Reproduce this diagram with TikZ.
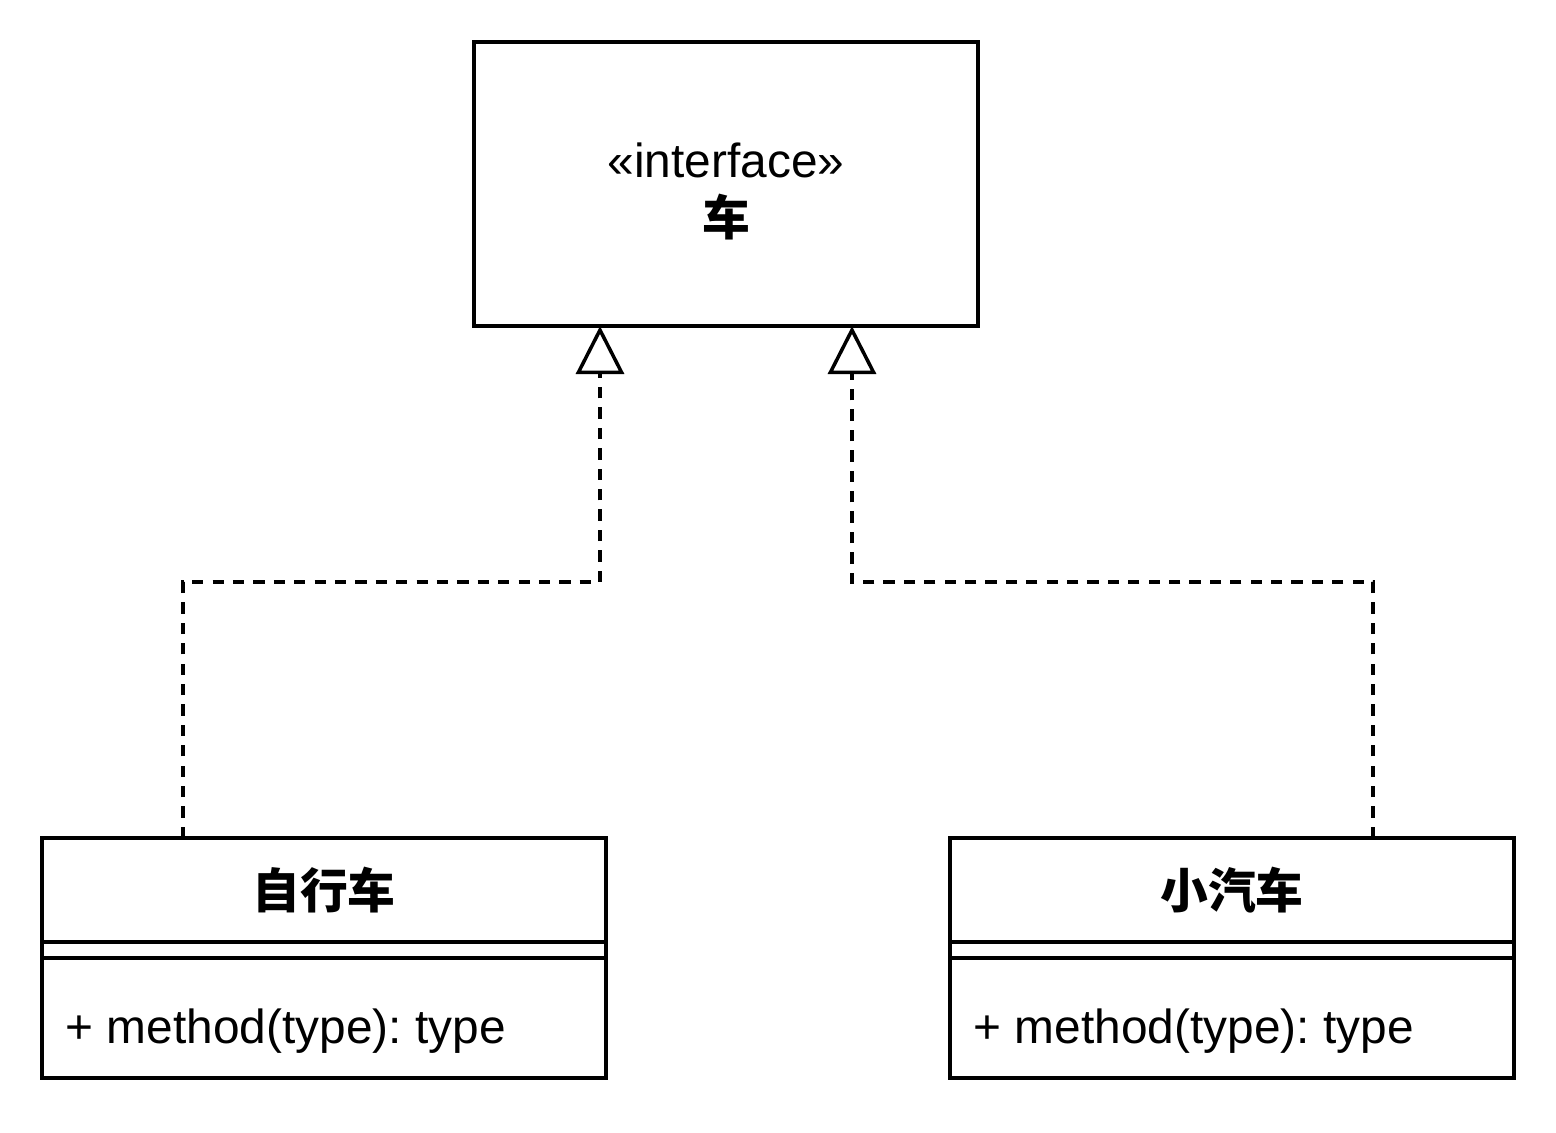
\documentclass[tikz,border=0pt]{standalone}
\usepackage{fontspec}
\setmainfont{Liberation Sans}
\newfontfamily\cjk{Noto Sans CJK SC}
\usetikzlibrary{arrows.meta}
\frenchspacing
\begin{document}
\begin{tikzpicture}[x=0.01cm,y=-0.01cm,
  box/.style={draw=black, line width=1pt, rectangle, inner sep=0pt, outer sep=0pt},
  realize/.style={draw=black, line width=1pt, dash pattern=on 3.2pt off 2.6pt,
    -{Triangle[open, length=0.48cm, width=0.48cm, line width=1pt]}},
  lbl/.style={font=\fontsize{13.6pt}{16pt}\selectfont, inner sep=0pt},
  cjklbl/.style={font=\cjk\bfseries\fontsize{13.6pt}{16pt}\selectfont, inner sep=0pt}
]
\useasboundingbox (0,0) rectangle (1556,1132);
% interface
\node[box, minimum width=5.04cm, minimum height=2.84cm] (iface) at (726,184) {};
\node[lbl] (ifst) at (726,160) {«interface»};
\node[cjklbl] (ifname) at (726,217) {车};
% bicycle
\node[box, minimum width=5.64cm, minimum height=1.04cm] (bikeHead) at (324,890) {};
\node[box, minimum width=5.64cm, minimum height=1.36cm] (bikeBody) at (324,1010) {};
\node[cjklbl] (bikeName) at (324,890) {自行车};
\draw[line width=1pt] (42,958) coordinate (bs1) -- (606,958) coordinate (bs2);
\node[lbl, anchor=west] (bikeMeth) at (65,1031) {+ method(type): type};
% car
\node[box, minimum width=5.64cm, minimum height=1.04cm] (carHead) at (1232,890) {};
\node[box, minimum width=5.64cm, minimum height=1.36cm] (carBody) at (1232,1010) {};
\node[cjklbl] (carName) at (1232,890) {小汽车};
\draw[line width=1pt] (950,958) coordinate (cs1) -- (1514,958) coordinate (cs2);
\node[lbl, anchor=west] (carMeth) at (973,1031) {+ method(type): type};
% connectors
\coordinate (b1) at (183,582);
\coordinate (b2) at (600,582);
\coordinate (c1) at (1373,582);
\coordinate (c2) at (852,582);
\draw[realize] (b1 |- bikeHead.north) -- (b1) -- (b2) -- (b2 |- iface.south);
\draw[realize] (c1 |- carHead.north) -- (c1) -- (c2) -- (c2 |- iface.south);
\end{tikzpicture}
\end{document}
